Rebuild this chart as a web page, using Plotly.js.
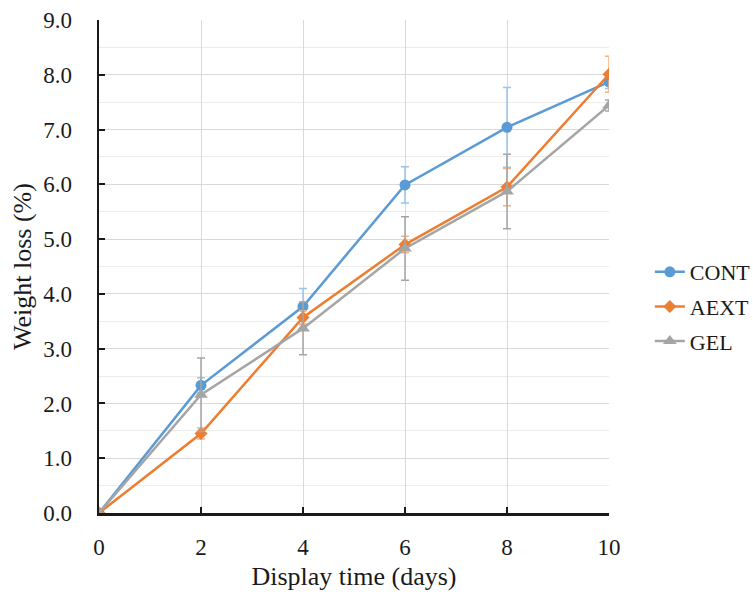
<!DOCTYPE html>
<html><head><meta charset="utf-8">
<script src="https://cdn.plot.ly/plotly-3.0.1.min.js"></script>
<style>body{margin:0;background:#fff}</style>
</head><body><div id="chart" style="width:753px;height:594px"></div>
<script>
const days = [0, 2, 4, 6, 8, 10];
const contVals = [0, 2.33, 3.77, 5.99, 7.04, 7.87];
const contErr = [0, 0.14, 0.33, 0.33, 0.73, 0.12];
const aextVals = [0, 1.45, 3.57, 4.90, 5.95, 8.01];
const aextErr = [0, 0.10, 0.12, 0.15, 0.34, 0.33];
const gelVals = [0, 2.16, 3.37, 4.83, 5.87, 7.44];
const gelErr = [0, 0.67, 0.48, 0.58, 0.68, 0.10];
const yTickVals = [0,1,2,3,4,5,6,7,8,9];
const yTickText = ['0.0','1.0','2.0','3.0','4.0','5.0','6.0','7.0','8.0','9.0'];

function tr(name, y, err, color, errColor, symbol, size) {
  return {
    x: days, y: y, name: name, type: 'scatter', mode: 'lines+markers',
    legendgroup: name,
    line: {color: color, width: 2.5},
    marker: {color: color, symbol: symbol, size: size},
    error_y: {type: 'data', array: err, visible: true, color: errColor, thickness: 1.5, width: 4}
  };
}
const data = [
  tr('CONT', contVals, contErr, '#5b9bd5', '#9dc3e6', 'circle', 11),
  tr('AEXT', aextVals, aextErr, '#ed7d31', '#f4b183', 'diamond', 10),
  tr('GEL', gelVals, gelErr, '#a5a5a5', '#a5a5a5', 'triangle-up', 12)
];
const fam = 'Liberation Serif, Times New Roman, serif';
const txt = '#1a1a1a';
const layout = {
  width: 753, height: 594,
  margin: {l: 99, r: 144, t: 20, b: 81},
  paper_bgcolor: '#fff', plot_bgcolor: '#fff',
  font: {family: fam, size: 22, color: txt},
  showlegend: true,
  legend: {xref: 'container', yref: 'container', x: 0.863, y: 0.484, xanchor: 'left', yanchor: 'middle',
           traceorder: 'grouped', tracegroupgap: 3,
           font: {family: fam, size: 22, color: txt}, itemwidth: 30},
  xaxis: {
    range: [0, 10], tickvals: days, ticks: 'inside', ticklen: 6, tickwidth: 2, tickcolor: txt,
    showline: true, linecolor: txt, linewidth: 2.5, zeroline: false,
    showgrid: true, gridcolor: '#d9d9d9', gridwidth: 1,
    ticklabelstandoff: 12,
    title: {text: 'Display time (days)', font: {family: fam, size: 26, color: txt}, standoff: 8},
    tickfont: {family: fam, size: 23, color: txt}
  },
  yaxis: {
    range: [0, 9], tickvals: yTickVals, ticktext: yTickText, ticks: 'inside', ticklen: 6, tickwidth: 2, tickcolor: txt,
    showline: true, linecolor: txt, linewidth: 2.5, zeroline: false,
    showgrid: true, gridcolor: '#d9d9d9', gridwidth: 1,
    ticklabelstandoff: 20,
    minor: {dtick: 0.5, showgrid: true, gridcolor: '#ececec', gridwidth: 1, ticks: ''},
    title: {text: 'Weight loss (%)', font: {family: fam, size: 26, color: txt}, standoff: 4},
    tickfont: {family: fam, size: 23, color: txt}
  }
};
Plotly.newPlot('chart', data, layout, {displayModeBar: false, staticPlot: true});
</script></body></html>
